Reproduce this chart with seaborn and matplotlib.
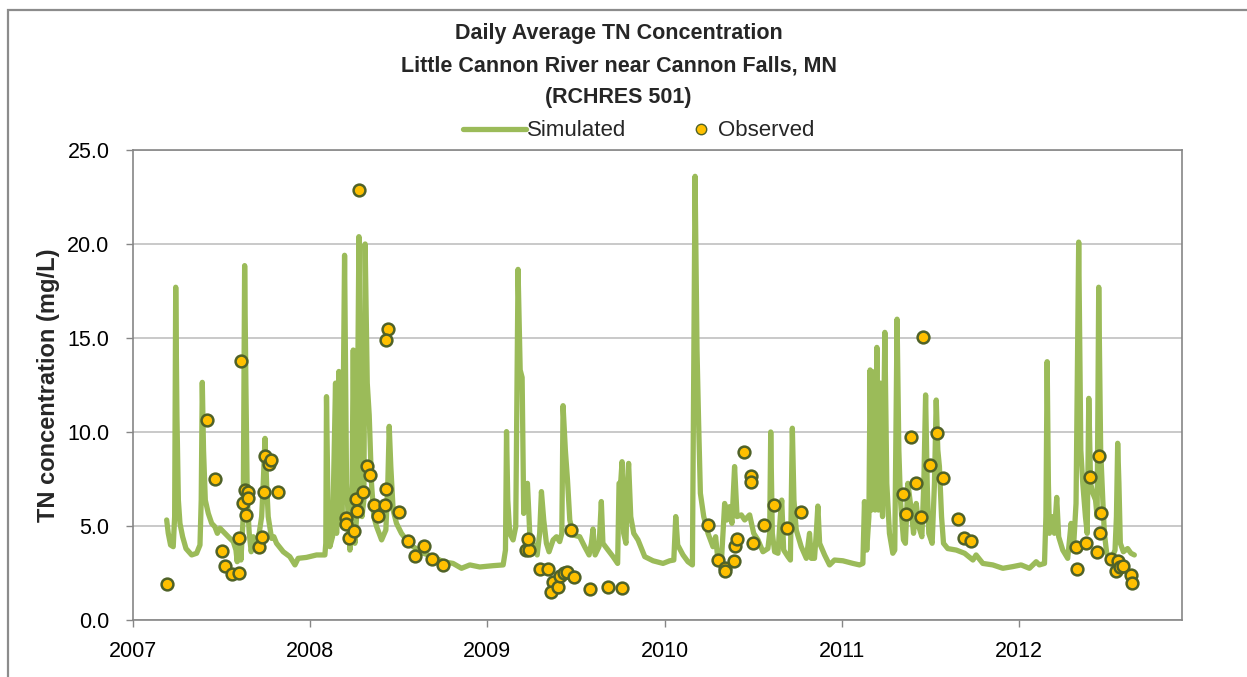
import matplotlib
matplotlib.use("Agg")
import matplotlib.pyplot as plt
from matplotlib.lines import Line2D
from matplotlib.patches import Rectangle
import pandas as pd
import seaborn as sns

# simulated daily TN (decimal year, mg/L) at its turning points
sim_year = [
    2007.190, 2007.199, 2007.212, 2007.227, 2007.235, 2007.241, 2007.248, 2007.256, 2007.265, 2007.280,
    2007.299, 2007.331, 2007.359, 2007.378, 2007.385, 2007.391, 2007.398, 2007.408, 2007.425, 2007.444,
    2007.462, 2007.476, 2007.491, 2007.519, 2007.547, 2007.566, 2007.581, 2007.588, 2007.600, 2007.609,
    2007.622, 2007.630, 2007.637, 2007.645, 2007.656, 2007.667, 2007.679, 2007.694, 2007.712, 2007.726,
    2007.735, 2007.745, 2007.754, 2007.763, 2007.782, 2007.795, 2007.810, 2007.848, 2007.885, 2007.914,
    2007.932, 2007.979, 2008.036, 2008.083, 2008.088, 2008.092, 2008.100, 2008.111, 2008.126, 2008.143,
    2008.149, 2008.162, 2008.171, 2008.180, 2008.194, 2008.205, 2008.224, 2008.235, 2008.243, 2008.252,
    2008.262, 2008.275, 2008.284, 2008.292, 2008.303, 2008.310, 2008.322, 2008.333, 2008.346, 2008.359,
    2008.375, 2008.403, 2008.427, 2008.438, 2008.446, 2008.455, 2008.468, 2008.487, 2008.515, 2008.543,
    2008.581, 2008.638, 2008.694, 2008.750, 2008.806, 2008.854, 2008.901, 2008.957, 2009.032, 2009.089,
    2009.102, 2009.108, 2009.115, 2009.126, 2009.145, 2009.160, 2009.173, 2009.185, 2009.196, 2009.205,
    2009.216, 2009.226, 2009.239, 2009.258, 2009.281, 2009.295, 2009.305, 2009.318, 2009.333, 2009.348,
    2009.371, 2009.390, 2009.408, 2009.420, 2009.427, 2009.440, 2009.452, 2009.465, 2009.484, 2009.521,
    2009.549, 2009.574, 2009.587, 2009.596, 2009.608, 2009.630, 2009.643, 2009.652, 2009.681, 2009.709,
    2009.735, 2009.743, 2009.752, 2009.760, 2009.769, 2009.782, 2009.790, 2009.797, 2009.809, 2009.826,
    2009.850, 2009.888, 2009.935, 2009.991, 2010.029, 2010.052, 2010.063, 2010.074, 2010.104, 2010.132,
    2010.157, 2010.172, 2010.183, 2010.192, 2010.202, 2010.221, 2010.245, 2010.273, 2010.288, 2010.301,
    2010.320, 2010.339, 2010.352, 2010.367, 2010.380, 2010.395, 2010.409, 2010.433, 2010.452, 2010.480,
    2010.503, 2010.527, 2010.555, 2010.583, 2010.593, 2010.599, 2010.608, 2010.621, 2010.640, 2010.653,
    2010.661, 2010.672, 2010.696, 2010.710, 2010.721, 2010.730, 2010.743, 2010.771, 2010.800, 2010.818,
    2010.828, 2010.846, 2010.856, 2010.865, 2010.875, 2010.903, 2010.931, 2010.959, 2011.006, 2011.063,
    2011.100, 2011.119, 2011.128, 2011.141, 2011.153, 2011.160, 2011.168, 2011.173, 2011.181, 2011.188,
    2011.198, 2011.207, 2011.218, 2011.230, 2011.243, 2011.254, 2011.269, 2011.288, 2011.299, 2011.312,
    2011.322, 2011.331, 2011.348, 2011.359, 2011.373, 2011.392, 2011.405, 2011.420, 2011.435, 2011.452,
    2011.463, 2011.473, 2011.482, 2011.491, 2011.510, 2011.523, 2011.533, 2011.542, 2011.551, 2011.563,
    2011.574, 2011.598, 2011.646, 2011.693, 2011.740, 2011.758, 2011.796, 2011.852, 2011.909, 2011.965,
    2012.012, 2012.059, 2012.097, 2012.115, 2012.144, 2012.152, 2012.159, 2012.166, 2012.172, 2012.187,
    2012.200, 2012.213, 2012.224, 2012.247, 2012.275, 2012.294, 2012.307, 2012.322, 2012.337, 2012.349,
    2012.360, 2012.375, 2012.385, 2012.394, 2012.404, 2012.417, 2012.432, 2012.441, 2012.450, 2012.461,
    2012.473, 2012.482, 2012.495, 2012.520, 2012.542, 2012.550, 2012.557, 2012.564, 2012.572, 2012.589,
    2012.613, 2012.632, 2012.651,
]
sim_tn = [
    5.32, 4.61, 3.99, 3.90, 5.50, 17.70, 10.80, 6.38, 5.14, 4.43,
    3.80, 3.46, 3.55, 3.99, 6.38, 12.64, 9.04, 6.38, 5.67, 5.14,
    4.96, 4.61, 4.88, 4.61, 4.34, 4.17, 3.72, 3.10, 4.43, 3.19,
    5.50, 18.85, 12.60, 6.38, 4.61, 3.63, 4.43, 3.90, 4.61, 5.50,
    7.27, 9.66, 7.27, 5.50, 4.34, 4.43, 4.08, 3.63, 3.37, 2.93,
    3.28, 3.33, 3.46, 3.46, 4.08, 11.88, 6.38, 3.90, 4.43, 12.60,
    4.61, 13.22, 5.50, 5.00, 19.40, 7.27, 3.72, 5.50, 14.36, 4.08,
    5.50, 20.39, 9.04, 5.50, 6.38, 20.00, 12.60, 10.90, 7.27, 5.50,
    4.96, 4.26, 4.79, 7.27, 10.30, 8.16, 5.85, 5.14, 4.61, 4.26,
    3.90, 3.55, 3.37, 3.10, 3.01, 2.75, 2.93, 2.82, 2.89, 2.93,
    3.72, 10.02, 6.38, 4.61, 4.26, 4.96, 18.65, 13.30, 12.90, 5.67,
    7.10, 7.27, 4.61, 4.08, 3.46, 4.61, 6.83, 5.32, 4.08, 3.63,
    4.26, 4.43, 4.17, 4.61, 11.40, 9.04, 7.45, 5.32, 4.52, 4.43,
    3.90, 3.46, 4.08, 4.84, 3.46, 3.90, 6.30, 4.08, 3.72, 3.37,
    3.01, 7.27, 7.27, 8.42, 4.61, 4.08, 7.27, 8.33, 5.50, 4.61,
    4.26, 3.37, 3.15, 3.01, 3.15, 3.19, 5.50, 3.99, 3.46, 3.10,
    2.93, 23.60, 14.36, 10.50, 6.74, 5.50, 4.61, 3.90, 4.43, 3.19,
    3.01, 6.20, 5.32, 6.03, 5.14, 8.16, 5.50, 5.59, 5.32, 5.59,
    4.61, 4.26, 3.63, 3.80, 4.61, 10.00, 4.61, 3.63, 3.55, 5.50,
    6.38, 3.72, 3.37, 3.19, 10.20, 6.38, 4.79, 3.90, 3.28, 4.61,
    3.28, 3.28, 4.61, 6.06, 4.08, 3.46, 2.93, 3.19, 3.15, 3.01,
    2.93, 3.01, 6.30, 3.72, 5.50, 13.30, 5.85, 6.38, 13.20, 5.85,
    14.50, 5.85, 12.60, 5.50, 15.30, 7.27, 4.61, 3.55, 3.72, 16.00,
    9.04, 6.38, 4.26, 4.08, 7.27, 5.85, 4.61, 6.20, 4.96, 4.43,
    7.27, 11.97, 7.27, 4.61, 4.08, 7.27, 11.70, 9.04, 8.16, 5.50,
    4.08, 3.80, 3.72, 3.55, 3.19, 3.46, 3.01, 2.93, 2.75, 2.84,
    2.93, 2.75, 3.10, 2.93, 3.01, 5.50, 13.74, 7.27, 4.61, 5.50,
    4.61, 6.52, 4.43, 3.72, 3.28, 5.14, 3.72, 6.20, 20.10, 9.04,
    7.27, 5.50, 4.61, 11.79, 7.27, 6.74, 6.38, 5.50, 17.70, 9.04,
    6.38, 4.61, 3.55, 3.19, 3.72, 5.50, 9.40, 7.27, 4.08, 3.63,
    3.80, 3.55, 3.46,
]

# observed grab samples (decimal year, mg/L)
obs_year = [
    2007.19, 2007.42, 2007.46, 2007.50, 2007.52, 2007.56, 2007.60, 2007.61, 2007.60, 2007.63,
    2007.65, 2007.62, 2007.65, 2007.64, 2007.71, 2007.73, 2007.74, 2007.745, 2007.77, 2007.78,
    2007.82, 2008.20, 2008.20, 2008.275, 2008.22, 2008.25, 2008.26, 2008.265, 2008.30, 2008.32,
    2008.34, 2008.36, 2008.38, 2008.42, 2008.43, 2008.44, 2008.43, 2008.50, 2008.55, 2008.59,
    2008.64, 2008.69, 2008.75, 2009.22, 2009.235, 2009.23, 2009.295, 2009.34, 2009.37, 2009.36,
    2009.40, 2009.41, 2009.43, 2009.45, 2009.47, 2009.49, 2009.58, 2009.68, 2009.76, 2010.245,
    2010.30, 2010.34, 2010.34, 2010.39, 2010.395, 2010.41, 2010.45, 2010.485, 2010.485, 2010.50,
    2010.56, 2010.62, 2010.69, 2010.77, 2011.345, 2011.36, 2011.39, 2011.42, 2011.445, 2011.46,
    2011.50, 2011.54, 2011.57, 2011.655, 2011.69, 2011.73, 2012.32, 2012.325, 2012.38, 2012.40,
    2012.44, 2012.45, 2012.455, 2012.465, 2012.52, 2012.55, 2012.56, 2012.57, 2012.585, 2012.635,
    2012.64,
]
obs_tn = [
    1.90, 10.64, 7.48, 3.69, 2.87, 2.45, 2.52, 13.76, 4.36, 6.91,
    6.83, 6.20, 6.50, 5.59, 3.87, 4.43, 6.81, 8.72, 8.30, 8.51,
    6.81, 5.44, 5.10, 22.87, 4.34, 4.73, 6.45, 5.78, 6.81, 8.19,
    7.70, 6.13, 5.51, 6.13, 6.95, 15.46, 14.91, 5.73, 4.22, 3.40,
    3.94, 3.24, 2.93, 3.74, 3.74, 4.31, 2.73, 2.73, 2.04, 1.47,
    1.77, 2.36, 2.48, 2.54, 4.79, 2.30, 1.63, 1.76, 1.70, 5.05,
    3.19, 2.75, 2.59, 3.14, 3.95, 4.31, 8.92, 7.64, 7.34, 4.08,
    5.04, 6.13, 4.91, 5.73, 6.68, 5.66, 9.75, 7.29, 5.46, 15.04,
    8.24, 9.95, 7.55, 5.39, 4.36, 4.22, 3.90, 2.73, 4.08, 7.62,
    3.62, 8.72, 4.63, 5.67, 3.23, 2.59, 3.15, 2.84, 2.87, 2.39,
    1.98,
]

year_ticks = [2007, 2008, 2009, 2010, 2011, 2012]
tn_ticks = [0, 5, 10, 15, 20, 25]

sim = pd.DataFrame({'year': sim_year, 'tn': sim_tn})
obs = pd.DataFrame({'year': obs_year, 'tn': obs_tn})

sns.set_style('white')
plt.rcParams['font.family'] = ['Liberation Sans', 'DejaVu Sans']

green = '#9BBB59'
gold = '#FFC000'
edge = '#4F6228'
frame = '#868686'

fig = plt.figure(figsize=(12.47, 6.77), dpi=100)
ax = fig.add_axes([133 / 1247, 57 / 677, (1182 - 133) / 1247, (620 - 150) / 677])

sns.lineplot(data=sim, x='year', y='tn', ax=ax, color=green, linewidth=3.8,
             estimator=None, sort=False, legend=False, zorder=2)
sns.scatterplot(data=obs, x='year', y='tn', ax=ax, color=gold, edgecolor=edge,
                linewidth=1.8, s=72, legend=False, zorder=3)

ax.set_xlim(2007, 2012.92)
ax.set_ylim(0, 25)
ax.set_xticks(year_ticks)
ax.set_xticklabels([str(y) for y in year_ticks])
ax.set_yticks(tn_ticks)
ax.set_yticklabels([f'{v:.1f}' for v in tn_ticks])
ax.tick_params(axis='both', direction='out', length=5, width=1, color=frame,
               labelsize=15.5, labelcolor='black')
ax.tick_params(axis='x', pad=10)
ax.tick_params(axis='y', pad=12)
ax.tick_params(axis='both', which='both', bottom=True, left=True)
ax.yaxis.grid(True, color='#C0C0C0', linewidth=1.2, zorder=0)
ax.set_axisbelow(True)
for side in ['left', 'right', 'top', 'bottom']:
    ax.spines[side].set_visible(True)
    ax.spines[side].set_color(frame)
    ax.spines[side].set_linewidth(1.2)

ax.set_xlabel('')
ax.set_ylabel('TN concentration (mg/L)', fontsize=17, fontweight='bold', labelpad=5)

title_lines = ['Daily Average TN Concentration',
               'Little Cannon River near Cannon Falls, MN',
               '(RCHRES 501)']
for i, line in enumerate(title_lines):
    fig.text(0.496, 1 - (34 + 32 * i) / 677, line, ha='center', va='center',
             fontsize=15.5, fontweight='bold')

sim_handle = Line2D([], [], color=green, linewidth=3.8)
obs_handle = Line2D([], [], linestyle='', marker='o', markersize=7.5, markerfacecolor=gold,
                    markeredgecolor=edge, markeredgewidth=1)
fig.legend([sim_handle], ['Simulated'], loc='center right',
           bbox_to_anchor=(626 / 1247, 1 - 131 / 677), frameon=False, fontsize=16,
           handlelength=2.8, handletextpad=0.05, borderpad=0, borderaxespad=0)
fig.legend([obs_handle], ['Observed'], loc='center left',
           bbox_to_anchor=(690 / 1247, 1 - 131 / 677), frameon=False, fontsize=16,
           handlelength=1.0, handletextpad=0.25, borderpad=0, borderaxespad=0)

fig.patches.append(Rectangle((8 / 1247, -0.05), 1.2, 1 - 10 / 677 + 0.05, transform=fig.transFigure,
                             fill=False, edgecolor='#8C8C8C', linewidth=1.6))

fig.savefig('out.png', dpi=100)
plt.close('all')
